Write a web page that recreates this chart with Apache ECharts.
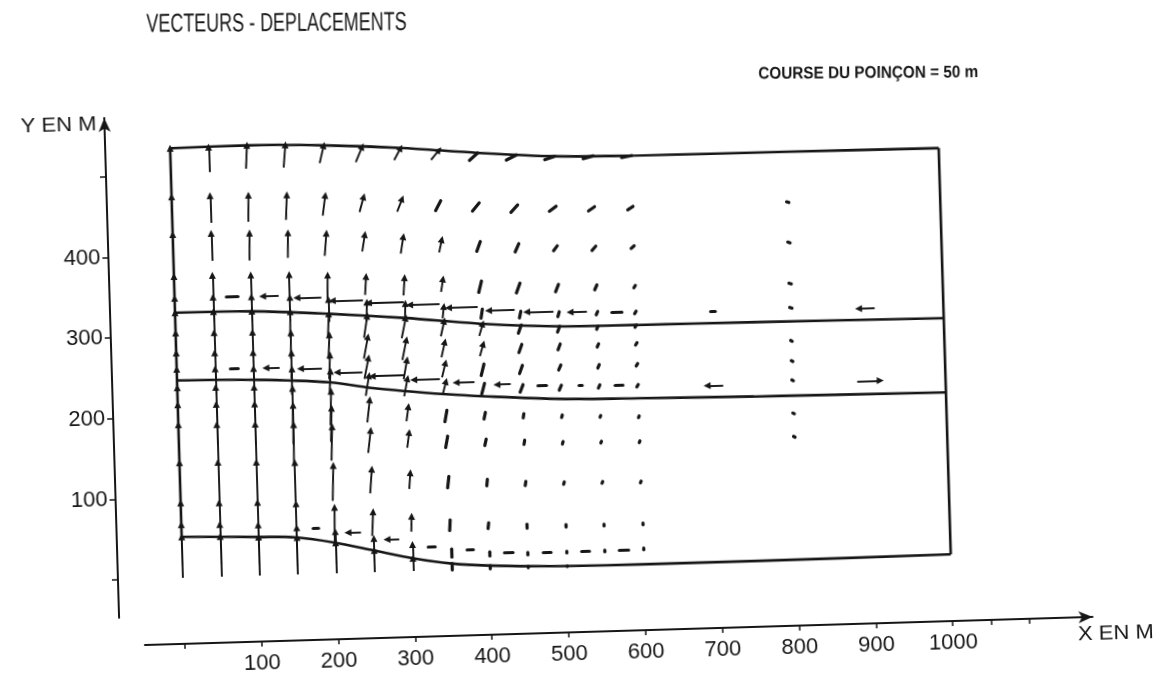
<!DOCTYPE html>
<html>
<head>
<meta charset="utf-8">
<script src="https://cdn.jsdelivr.net/npm/echarts@6/dist/echarts.min.js"></script>
<style>
html,body{margin:0;padding:0;background:#fff;overflow:hidden;}
#chart{width:1158px;height:677px;transform:rotate(-1.7deg);transform-origin:50% 50%;}
</style>
</head>
<body>
<div id="chart"></div>
<script>
// ---------------- DATA ----------------
// Mesh columns (X, m)
const colX = [0,50,100,150,200,250,300,350,400,450,500,550,600];

// Deformed layer boundaries
const topX    = [0,100,200,300,400,500,600,800,1000];
const topY    = [533,534,531,525,516,509,507,506,505];
const upperX  = [0,100,200,300,400,500,600,750,1000];
const upperY  = [329,328,322,314,304,298,297,296,294];
const lowerX  = [0,100,200,250,350,400,500,600,750,1000];
const lowerY  = [245,243,237,229,218,214,208,206,204,202];
const bottomX = [0,100,150,200,250,300,350,400,480,600,750,1000];
const bottomY = [51,48,46,38,27,16,8,4,1,0,0,1];

// Column vectors: head Y (displaced node), displacement u (X) and v (Y)
// top layer
const rowS_y  = [533,533,534,533,531,528,525,521,516,512,509,508,507];
const rowS_u  = [0,0,2,3,6,9,9,11,11,13,13,13,13];
const rowS_v  = [34,31,29,28,22,19,15,12,9,6,4,3,2];
const rowT1_y = [473,473,472,471,469,466,462,458,454,450,447,445,444];
const rowT1_u = [0,0,1,2,4,6,7,7,9,9,9,8,7];
const rowT1_v = [34,34,33,31,25,19,16,12,10,9,6,5,4];
const rowT2_y = [426,426,425,424,422,419,415,410,406,402,398,396,395];
const rowT2_u = [0,0,1,1,3,4,4,4,5,5,5,5,4];
const rowT2_v = [34,34,34,31,28,21,21,16,12,10,6,5,3];
const rowT3_y = [374,374,373,372,370,367,364,361,357,353,350,348,346];
const rowT3_u = [0,0,0,0,1,2,2,3,4,5,4,3,2];
const rowT3_v = [34,34,34,33,30,23,22,16,14,12,9,6,3];
const rowD1_y = [347,347,346,344,340,335,332,327,322,318,316,315,314];
const rowD1_u = [0,0,0,0,0,1,1,2,2,2,2,2,2];
const rowD1_v = [30,30,30,30,28,24,20,15,11,8,6,4,3];
// middle layer
const rowI1_y = [329,329,328,326,322,318,314,309,304,301,298,297,297];
const rowI1_u = [0,0,0,1,2,5,6,5,5,4,3,2,2];
const rowI1_v = [32,32,32,32,30,27,25,19,15,10,7,4,3];
const rowM1_y = [304,303,302,300,296,292,287,283,279,277,276,275,275];
const rowM1_u = [0,0,0,1,2,6,6,5,5,4,3,2,2];
const rowM1_v = [32,32,32,32,30,27,25,19,15,10,7,4,3];
const rowM2_y = [279,278,277,275,271,266,262,257,254,251,250,249,249];
const rowM2_u = [0,0,0,1,2,6,5,5,4,4,3,2,2];
const rowM2_v = [32,32,32,32,30,26,24,18,14,10,6,4,3];
const rowD2_y = [259,258,257,255,251,244,239,234,230,227,225,224,223];
const rowD2_u = [0,0,0,1,2,5,5,5,4,4,3,2,2];
const rowD2_v = [32,32,32,32,29,25,22,17,13,9,6,4,3];
// bottom layer
const rowB1_y = [236,235,234,231,226,214,204,198,194,191,188,186,184];
const rowB1_u = [0,0,0,1,2,4,3,3,2,1,1,1,1];
const rowB1_v = [50,50,50,48,42,28,18,14,8,5,3,2,2];
const rowBx_y = [215,214,213,210,205,null,null,null,null,null,null,null,null];
const rowBx_u = [0,0,0,1,2,0,0,0,0,0,0,0,0];
const rowBx_v = [50,50,50,48,42,0,0,0,0,0,0,0,0];
const rowB2_y = [190,189,188,186,182,176,172,166,161,158,155,154,153];
const rowB2_u = [0,0,0,1,2,4,3,3,2,1,1,1,1];
const rowB2_v = [50,50,50,49,42,28,19,14,8,5,3,2,2];
const rowB3_y = [143,142,141,139,134,128,122,116,111,107,105,104,103];
const rowB3_u = [0,0,0,0,2,3,2,2,1,1,1,1,1];
const rowB3_v = [50,50,50,49,44,30,20,14,8,5,3,2,2];
const rowB4_y = [93,92,91,88,82,75,68,62,57,54,52,51,51];
const rowB4_u = [0,0,0,0,1,2,1,1,1,0,0,0,0];
const rowB4_v = [50,50,50,49,45,30,19,13,7,5,3,2,2];
const rowD3_y = [66,65,63,58,52,42,33,26,21,19,19,19,20];
const rowD3_u = [0,0,0,0,0,0,0,0,0,0,0,0,0];
const rowD3_v = [50,50,50,48,40,28,18,10,5,3,2,2,2];
const rowB0_y = [51,50,48,46,38,27,16,8,4,2,1,0,0];
const rowB0_u = [0,0,0,0,0,0,0,0,0,0,0,0,0];
const rowB0_v = [51,50,48,46,38,27,16,8,4,2,1,0,0];

// Horizontal (slip) vectors on the rows just above each interface: centre X, Y, signed u
const slip1_x = [75,125,175,225,275,325,375,425,475,525,575,700,900];
const slip1_y = [347,346,343,338,334,330,325,320,317,315,314,311,309];
const slip1_u = [-15,-21,-32,-40,-46,-39,-38,-34,-35,-22,-13,-6,-21];
const slip2_x = [75,125,175,225,275,325,375,425,475,525,575,700,900];
const slip2_y = [258,257,255,249,243,237,232,228,226,224,223,219,219];
const slip2_u = [-10,-18,-28,-33,-42,-34,-24,-18,-11,-4,-10,-21,30];
const slip3_x = [175,225,275,325,375,425,475,525,575];
const slip3_y = [57,50,40,30,24,20,18,18,19];
const slip3_u = [-7,-17,-16,-9,-8,-11,-10,-10,-12];

// Isolated column at X = 800 (near-zero vectors)
const col800_x = 800;
const col800_y = [444,394,343,313,272,247,223,182,153];
const col800_u = [-3,-3,-3,-3,-2,-2,-2,-2,-2];
const col800_v = [1,1,1,1,1,1,1,1,1];

// Axes
const xTickValues  = [0,100,200,300,400,500,600,700,800,900,1000,1050,1100];
const xLabelValues = [100,200,300,400,500,600,700,800,900,1000];
const yTickValues  = [0,100,200,300,400,500];
const yLabelValues = [100,200,300,400];

// ---------------- BUILD ----------------
const INK = '#161616';
const FONT = '"Liberation Sans", Arial, sans-serif';

const colRows = [
  [rowS_y,rowS_u,rowS_v],[rowT1_y,rowT1_u,rowT1_v],[rowT2_y,rowT2_u,rowT2_v],
  [rowT3_y,rowT3_u,rowT3_v],[rowD1_y,rowD1_u,rowD1_v],
  [rowI1_y,rowI1_u,rowI1_v],[rowM1_y,rowM1_u,rowM1_v],[rowM2_y,rowM2_u,rowM2_v],
  [rowD2_y,rowD2_u,rowD2_v],
  [rowB1_y,rowB1_u,rowB1_v],[rowBx_y,rowBx_u,rowBx_v],[rowB2_y,rowB2_u,rowB2_v],
  [rowB3_y,rowB3_u,rowB3_v],[rowB4_y,rowB4_u,rowB4_v],[rowD3_y,rowD3_u,rowD3_v],
  [rowB0_y,rowB0_u,rowB0_v]
];
const vecs = [];
colRows.forEach(([ys,us,vs]) => {
  colX.forEach((x,i) => {
    const y = ys[i];
    if (y == null) return;
    const u = us[i], v = vs[i];
    if (u === 0 && v === 0) return;
    vecs.push([[x-u, y-v],[x, y]]);
  });
});
[[slip1_x,slip1_y,slip1_u],[slip2_x,slip2_y,slip2_u],[slip3_x,slip3_y,slip3_u]].forEach(([xs,ys,us]) => {
  xs.forEach((x,i) => vecs.push([[x-us[i]/2, ys[i]],[x+us[i]/2, ys[i]]]));
});
col800_y.forEach((y,i) => vecs.push([[col800_x-col800_u[i], y-col800_v[i]],[col800_x, y]]));

const longV = [], shortV = [];
vecs.forEach(c => {
  const dx = (c[1][0]-c[0][0])*0.768, dy = (c[1][1]-c[0][1])*0.806;
  (Math.hypot(dx,dy) >= 12 ? longV : shortV).push({coords: c});
});

const zip = (a,b) => a.map((v,i) => [v,b[i]]);
const boundary = (data) => ({
  type:'line', data, showSymbol:false, smooth:0.3, silent:true,
  lineStyle:{color:INK, width:2.6}, z:3
});

const chart = echarts.init(document.getElementById('chart'));
chart.setOption({
  animation:false,
  backgroundColor:'#ffffff',
  grid:{left:136, top:104, width:948, height:500, containLabel:false},
  xAxis:{
    type:'value', min:-52, max:1182, position:'bottom', offset:28,
    axisLine:{show:true, onZero:false, symbol:['none','arrow'], symbolSize:[9,14],
      lineStyle:{color:INK, width:2}},
    axisTick:{show:true, customValues:xTickValues, length:5, lineStyle:{color:INK, width:1.5}},
    axisLabel:{customValues:xLabelValues, margin:11, fontSize:22, fontFamily:FONT, color:INK,
      formatter:(v) => String(v)},
    splitLine:{show:false}
  },
  yAxis:{
    type:'value', min:-47, max:573, position:'left', offset:25,
    axisLine:{show:true, onZero:false, symbol:['none','arrow'], symbolSize:[9,14],
      lineStyle:{color:INK, width:2}},
    axisTick:{show:true, customValues:yTickValues, length:6, lineStyle:{color:INK, width:1.5}},
    axisLabel:{customValues:yLabelValues, margin:8, fontSize:22, fontFamily:FONT, color:INK,
      formatter:(v) => String(v)},
    splitLine:{show:false}
  },
  graphic:{elements:[
    {type:'text', x:286, y:15, rotation:-0.0227, scaleX:0.69,
      style:{text:'VECTEURS - DEPLACEMENTS', font:'26px '+FONT, fill:INK,
        align:'center', verticalAlign:'middle', textAlign:'center', textVerticalAlign:'middle'}},
    {type:'text', x:876, y:82, rotation:-0.0227, scaleX:0.9,
      style:{text:'COURSE DU POINÇON = 50 m', font:'bold 17px '+FONT, fill:INK,
        align:'center', verticalAlign:'middle', textAlign:'center', textVerticalAlign:'middle'}},
    {type:'text', x:103, y:110, scaleX:1.1,
      style:{text:'Y EN M', font:'20px '+FONT, fill:INK,
        align:'right', verticalAlign:'middle', textAlign:'right', textVerticalAlign:'middle'}},
    {type:'text', x:1069, y:649, scaleX:1.1,
      style:{text:'X EN M', font:'20px '+FONT, fill:INK,
        align:'left', verticalAlign:'middle', textAlign:'left', textVerticalAlign:'middle'}}
  ]},
  series:[
    boundary(zip(topX, topY)),
    boundary(zip(upperX, upperY)),
    boundary(zip(lowerX, lowerY)),
    boundary(zip(bottomX, bottomY)),
    boundary([[topX[0], bottomY[0]],[topX[0], topY[0]]]),
    boundary([[topX[topX.length-1], bottomY[bottomY.length-1]],[topX[topX.length-1], topY[topY.length-1]]]),
    {type:'lines', coordinateSystem:'cartesian2d', polyline:false, silent:true,
      symbol:['none','triangle'], symbolSize:[0,7], data:longV,
      lineStyle:{color:INK, width:1.9, opacity:1, curveness:0}, z:4},
    {type:'lines', coordinateSystem:'cartesian2d', polyline:false, silent:true,
      symbol:['none','none'], data:shortV,
      lineStyle:{color:INK, width:3.2, cap:'round', opacity:1, curveness:0}, z:4}
  ]
});
</script>
</body>
</html>
